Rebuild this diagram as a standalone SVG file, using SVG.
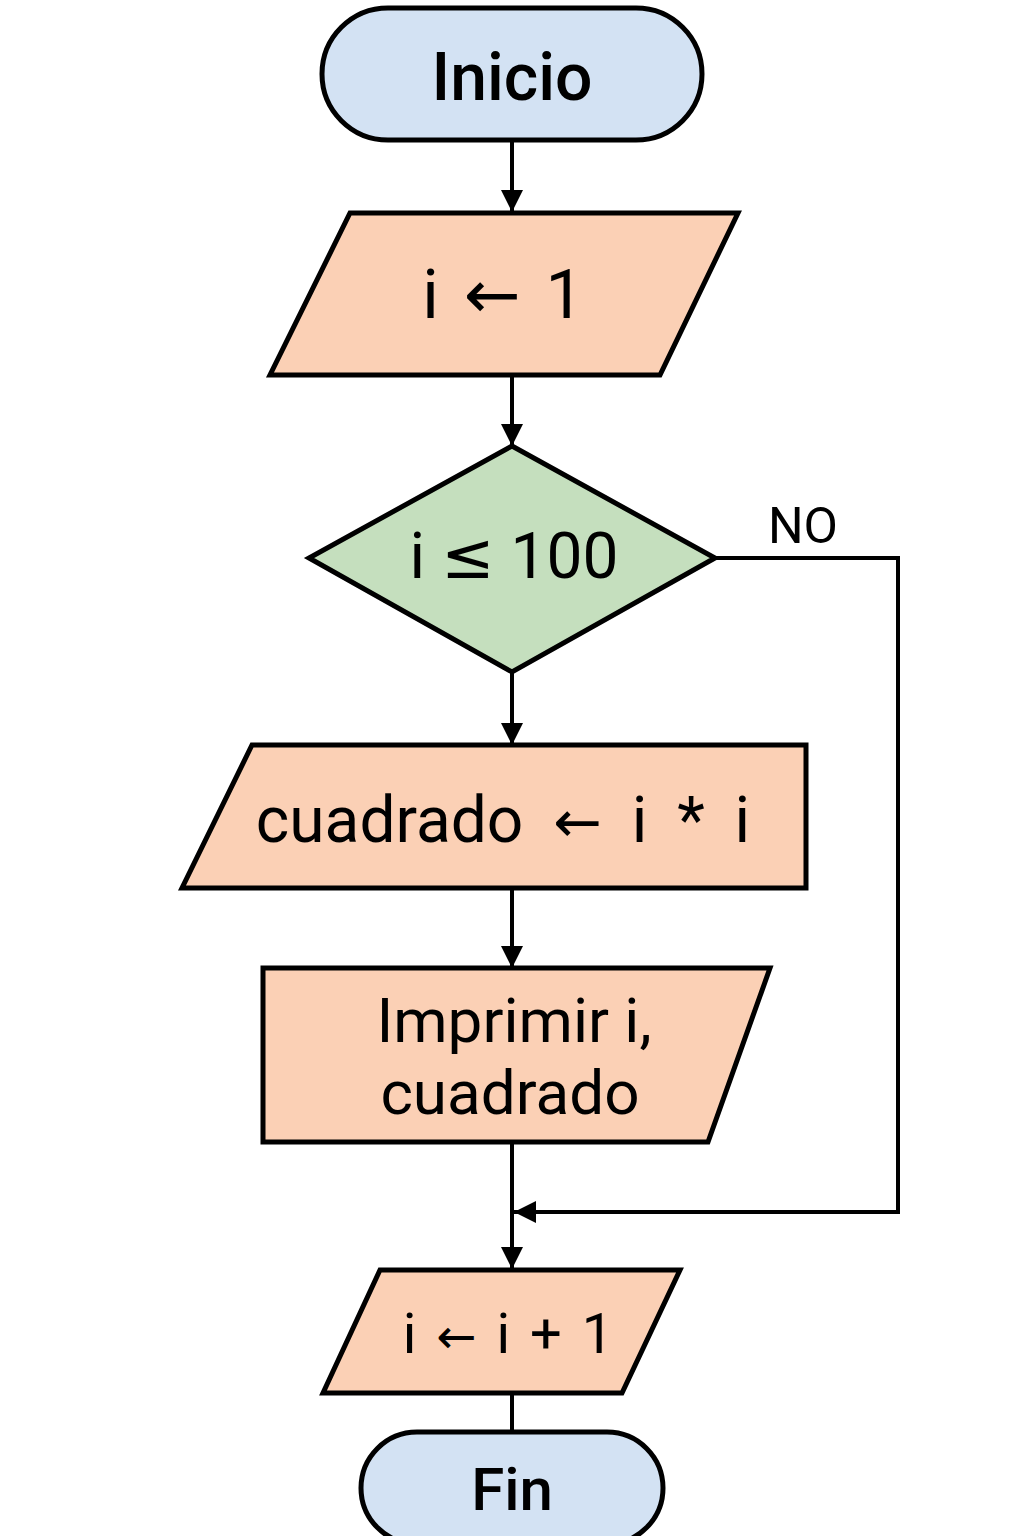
<svg xmlns="http://www.w3.org/2000/svg" width="1024" height="1536" viewBox="0 0 1024 1536">
<style>
.s{stroke:#000;stroke-width:5;stroke-linejoin:miter}
.term{fill:#D3E2F3}
.proc{fill:#FBD0B5}
.dec{fill:#C5DFBE}
.t{font-family:Roboto,"Noto Sans","Liberation Sans",sans-serif;fill:#000;text-anchor:middle}
.b{font-weight:500}
.a{font-family:"DejaVu Sans",sans-serif}
.c{fill:none;stroke:#000;stroke-width:4}
</style>
<defs>
<marker id="ah" markerUnits="userSpaceOnUse" markerWidth="24" markerHeight="22" refX="22" refY="11" orient="auto">
<path d="M0,0 L22,11 L0,22 Z" fill="#000"/>
</marker>
</defs>
<rect width="1024" height="1536" fill="#fff"/>
<g id="connectors">
<line class="c" x1="512" y1="140" x2="512" y2="212" marker-end="url(#ah)"/>
<line class="c" x1="512" y1="375" x2="512" y2="446" marker-end="url(#ah)"/>
<line class="c" x1="512" y1="672" x2="512" y2="745" marker-end="url(#ah)"/>
<line class="c" x1="512" y1="888" x2="512" y2="968" marker-end="url(#ah)"/>
<line class="c" x1="512" y1="1142" x2="512" y2="1269" marker-end="url(#ah)"/>
<polyline class="c" points="715,558 898,558 898,1212 514,1212" marker-end="url(#ah)"/>
<line class="c" x1="512" y1="1393" x2="512" y2="1432"/>
<text class="t" x="803" y="543" font-size="50">NO</text>
</g>
<g id="inicio">
<rect class="s term" x="322" y="8" width="380" height="132" rx="66"/>
<text class="t b" x="512" y="100" font-size="66">Inicio</text>
</g>
<g id="init">
<polygon class="s proc" points="350,213 738,213 660,375 270,375"/>
<text class="t" x="503" y="318" font-size="68" word-spacing="8">i <tspan class="a">←</tspan> 1</text>
</g>
<g id="cond">
<polygon class="s dec" points="512,446 715,558 512,672 309,558"/>
<text class="t" x="514" y="578" font-size="64">i <tspan class="a">≤</tspan> 100</text>
</g>
<g id="calc">
<polygon class="s proc" points="252,745 806,745 806,888 182,888"/>
<text class="t" x="503" y="842" font-size="64" word-spacing="14">cuadrado <tspan class="a" font-size="58">←</tspan> i * i</text>
</g>
<g id="print">
<polygon class="s proc" points="263,968 770,968 708,1142 263,1142"/>
<text class="t" x="514" y="1042" font-size="62">Imprimir i,</text>
<text class="t" x="510" y="1114" font-size="62">cuadrado</text>
</g>
<g id="incr">
<polygon class="s proc" points="380,1270 680,1270 622,1393 323,1393"/>
<text class="t" x="508" y="1353" font-size="56" word-spacing="6">i <tspan class="a" font-size="48">←</tspan> i + 1</text>
</g>
<g id="fin">
<rect class="s term" x="361" y="1432" width="302" height="112" rx="56"/>
<text class="t b" x="512" y="1510" font-size="60">Fin</text>
</g>
</svg>
